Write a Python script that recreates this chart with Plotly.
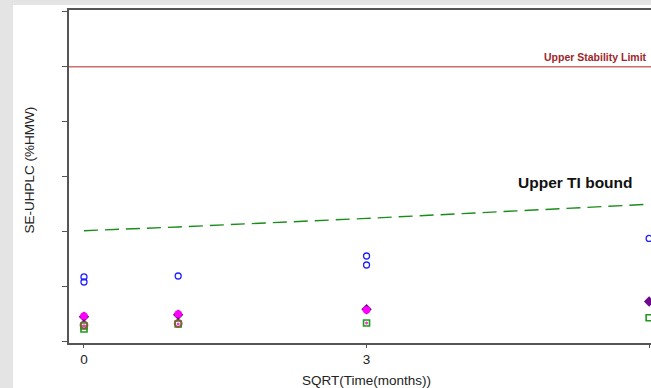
import plotly.graph_objects as go

# ---- data ----
blue_x = [0, 0, 1, 3, 3, 6]
blue_y = [0.584, 0.538, 0.593, 0.775, 0.693, 0.935]

purple_x = [0, 1, 3, 6]
purple_y = [0.222, 0.240, 0.290, 0.360]

magenta_x = [0, 1, 3]
magenta_y = [0.228, 0.246, 0.283]

brown_x = [0, 1]
brown_y = [0.146, 0.160]

green_x = [0, 0, 1, 3, 6]
green_y = [0.109, 0.137, 0.155, 0.164, 0.212]

dot_x = [0, 1, 3]
dot_y = [0.140, 0.155, 0.165]

ti_x = [0, 1, 3, 6]
ti_y = [1.006, 1.040, 1.118, 1.247]

upper_limit = 2.5

x_ticks = [0, 3, 6]
y_ticks = [0, 0.5, 1.0, 1.5, 2.0, 2.5, 3.0]

x_title = "SQRT(Time(months))"
y_title = "SE-UHPLC (%HMW)"
ti_label = "Upper TI bound"
limit_label = "Upper Stability Limit"

# ---- figure ----
fig = go.Figure()

fig.add_trace(go.Scatter(x=ti_x, y=ti_y, mode="lines",
                         line=dict(color="#1a8c1a", width=1.4, dash="14px,7px"),
                         hoverinfo="skip"))

fig.add_trace(go.Scatter(x=green_x, y=green_y, mode="markers",
                         marker=dict(symbol="square-open", size=6, color="#1f9a1f",
                                     line=dict(width=1.6, color="#1f9a1f"))))
fig.add_trace(go.Scatter(x=brown_x, y=brown_y, mode="markers",
                         marker=dict(symbol="circle-open", size=7, color="#8a5a3a",
                                     line=dict(width=1.8, color="#8a5a3a"))))
fig.add_trace(go.Scatter(x=dot_x, y=dot_y, mode="markers",
                         marker=dict(symbol="circle", size=3, color="#ff33cc")))
fig.add_trace(go.Scatter(x=purple_x, y=purple_y, mode="markers",
                         marker=dict(symbol="diamond", size=8, color="#6a0a8a")))
fig.add_trace(go.Scatter(x=magenta_x, y=magenta_y, mode="markers",
                         marker=dict(symbol="circle", size=7.5, color="#ff00ff")))
fig.add_trace(go.Scatter(x=blue_x, y=blue_y, mode="markers",
                         marker=dict(symbol="circle-open", size=6, color="#2020ff",
                                     line=dict(width=1.3, color="#2020ff"))))

# white panel on grey page
fig.add_shape(type="rect", xref="paper", yref="paper",
              x0=-0.0962, x1=1.0, y0=-0.2, y1=1.015,
              fillcolor="white", line=dict(width=0), layer="below")

# upper stability limit
fig.add_shape(type="line", xref="paper", yref="y", x0=0, x1=1,
              y0=upper_limit, y1=upper_limit,
              line=dict(color="rgb(205,110,110)", width=1.5))

font_fam = "Liberation Sans, Arial, sans-serif"

fig.add_annotation(text=y_title, xref="paper", yref="paper", x=-0.084, y=0.52,
                   textangle=-90, showarrow=False,
                   font=dict(family=font_fam, size=13.5, color="#222"))
fig.add_annotation(text=x_title, xref="paper", yref="paper", x=0.512, y=-0.114,
                   xanchor="center", yanchor="middle", showarrow=False,
                   font=dict(family=font_fam, size=13.5, color="#222"))
fig.add_annotation(text="<b>" + ti_label + "</b>", x=5.22, y=1.441,
                   showarrow=False, xanchor="center", yanchor="middle",
                   font=dict(family=font_fam, size=15.5, color="#111"))
fig.add_annotation(text="<b>" + limit_label + "</b>", x=6.0, y=2.594,
                   showarrow=False, xanchor="right", yanchor="middle",
                   font=dict(family=font_fam, size=10.5, color="#a0262a"))

axis_col = "#555555"
fig.update_layout(
    width=651, height=388,
    margin=dict(l=69, r=0, t=10, b=45),
    paper_bgcolor="#e4e4e4", plot_bgcolor="white",
    showlegend=False,
    xaxis=dict(range=[-0.159, 6.02], tickvals=x_ticks, ticktext=[str(v) for v in x_ticks],
               ticks="outside", ticklen=3, tickcolor=axis_col,
               showline=True, linecolor=axis_col, linewidth=1.5, mirror=True,
               showgrid=False, zeroline=False,
               tickfont=dict(family=font_fam, size=13.5, color="#222")),
    yaxis=dict(range=[-0.018, 3.018], tickvals=y_ticks, showticklabels=False,
               ticks="outside", ticklen=5, tickcolor=axis_col,
               showline=True, linecolor=axis_col, linewidth=1.5,
               showgrid=False, zeroline=False),
)

fig.write_html("out.html", config=dict(displayModeBar=False))
